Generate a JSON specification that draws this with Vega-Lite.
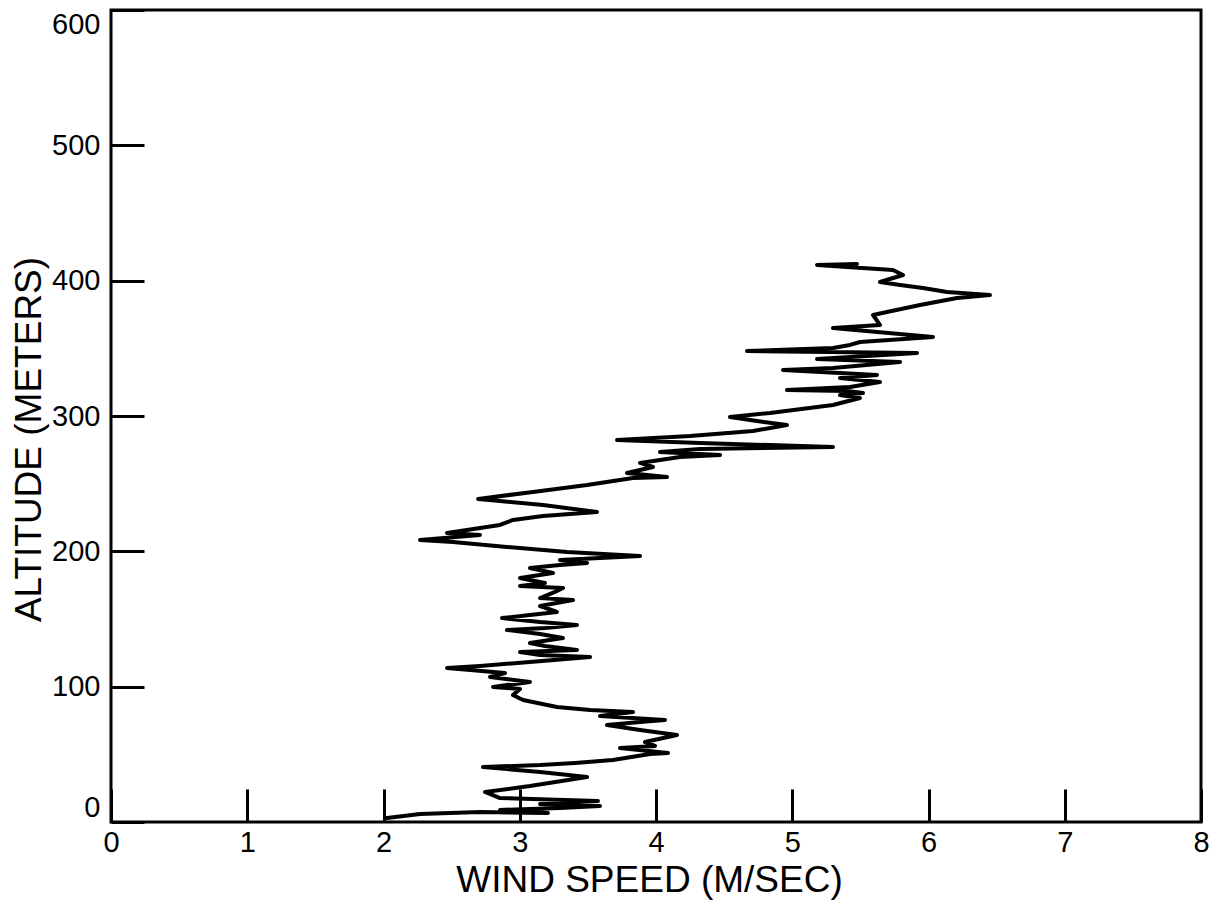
{
  "$schema": "https://vega.github.io/schema/vega-lite/v6.json",
  "width": 1090,
  "height": 812,
  "autosize": {"type": "none"},
  "padding": {"left": 111, "top": 10, "right": 16, "bottom": 79},
  "background": "white",
  "config": {
    "view": {"stroke": "black", "strokeWidth": 3},
    "axis": {
      "grid": false,
      "domain": false,
      "ticks": true,
      "tickSize": -33,
      "tickWidth": 3,
      "tickColor": "black",
      "labelFont": "Liberation Sans",
      "labelFontSize": 29,
      "labelColor": "black",
      "labelOverlap": false,
      "titleFont": "Liberation Sans",
      "titleFontSize": 37,
      "titleFontWeight": "normal",
      "titleColor": "black"
    }
  },
  "data": {
    "values": [
      {"i": 1, "speed": 2.026, "altitude": 3.0},
      {"i": 2, "speed": 2.268, "altitude": 5.9},
      {"i": 3, "speed": 2.708, "altitude": 7.4},
      {"i": 4, "speed": 3.207, "altitude": 6.7},
      {"i": 5, "speed": 2.855, "altitude": 8.9},
      {"i": 6, "speed": 3.295, "altitude": 10.4},
      {"i": 7, "speed": 3.589, "altitude": 11.8},
      {"i": 8, "speed": 3.149, "altitude": 13.3},
      {"i": 9, "speed": 3.574, "altitude": 15.5},
      {"i": 10, "speed": 2.855, "altitude": 17.7},
      {"i": 11, "speed": 2.745, "altitude": 22.2},
      {"i": 12, "speed": 3.075, "altitude": 26.6},
      {"i": 13, "speed": 3.494, "altitude": 33.3},
      {"i": 14, "speed": 3.149, "altitude": 37.0},
      {"i": 15, "speed": 2.730, "altitude": 40.6},
      {"i": 16, "speed": 3.149, "altitude": 42.1},
      {"i": 17, "speed": 3.406, "altitude": 43.6},
      {"i": 18, "speed": 3.684, "altitude": 45.8},
      {"i": 19, "speed": 3.956, "altitude": 50.3},
      {"i": 20, "speed": 4.088, "altitude": 51.0},
      {"i": 21, "speed": 3.736, "altitude": 54.7},
      {"i": 22, "speed": 3.993, "altitude": 56.2},
      {"i": 23, "speed": 3.919, "altitude": 59.1},
      {"i": 24, "speed": 4.154, "altitude": 64.3},
      {"i": 25, "speed": 3.883, "altitude": 68.0},
      {"i": 26, "speed": 3.640, "altitude": 71.7},
      {"i": 27, "speed": 3.883, "altitude": 73.9},
      {"i": 28, "speed": 4.066, "altitude": 75.4},
      {"i": 29, "speed": 3.589, "altitude": 78.3},
      {"i": 30, "speed": 3.831, "altitude": 81.3},
      {"i": 31, "speed": 3.516, "altitude": 82.8},
      {"i": 32, "speed": 3.273, "altitude": 85.0},
      {"i": 33, "speed": 3.024, "altitude": 90.2},
      {"i": 34, "speed": 2.950, "altitude": 93.8},
      {"i": 35, "speed": 3.002, "altitude": 98.3},
      {"i": 36, "speed": 2.804, "altitude": 99.8},
      {"i": 37, "speed": 3.075, "altitude": 103.5},
      {"i": 38, "speed": 2.782, "altitude": 107.2},
      {"i": 39, "speed": 2.892, "altitude": 110.1},
      {"i": 40, "speed": 2.466, "altitude": 113.8},
      {"i": 41, "speed": 2.708, "altitude": 115.3},
      {"i": 42, "speed": 3.075, "altitude": 118.2},
      {"i": 43, "speed": 3.516, "altitude": 121.9},
      {"i": 44, "speed": 3.149, "altitude": 123.4},
      {"i": 45, "speed": 3.002, "altitude": 125.6},
      {"i": 46, "speed": 3.420, "altitude": 127.1},
      {"i": 47, "speed": 3.185, "altitude": 130.1},
      {"i": 48, "speed": 3.075, "altitude": 132.3},
      {"i": 49, "speed": 3.317, "altitude": 136.0},
      {"i": 50, "speed": 3.149, "altitude": 138.9},
      {"i": 51, "speed": 2.906, "altitude": 141.9},
      {"i": 52, "speed": 3.185, "altitude": 143.4},
      {"i": 53, "speed": 3.420, "altitude": 145.6},
      {"i": 54, "speed": 3.149, "altitude": 147.8},
      {"i": 55, "speed": 2.870, "altitude": 150.7},
      {"i": 56, "speed": 3.075, "altitude": 153.0},
      {"i": 57, "speed": 3.273, "altitude": 155.2},
      {"i": 58, "speed": 3.149, "altitude": 159.6},
      {"i": 59, "speed": 3.391, "altitude": 164.0},
      {"i": 60, "speed": 3.149, "altitude": 165.5},
      {"i": 61, "speed": 3.259, "altitude": 170.0},
      {"i": 62, "speed": 3.317, "altitude": 172.9},
      {"i": 63, "speed": 3.002, "altitude": 174.4},
      {"i": 64, "speed": 3.185, "altitude": 176.6},
      {"i": 65, "speed": 3.002, "altitude": 180.3},
      {"i": 66, "speed": 3.244, "altitude": 184.0},
      {"i": 67, "speed": 3.075, "altitude": 187.7},
      {"i": 68, "speed": 3.295, "altitude": 189.9},
      {"i": 69, "speed": 3.494, "altitude": 191.4},
      {"i": 70, "speed": 3.295, "altitude": 193.6},
      {"i": 71, "speed": 3.589, "altitude": 195.1},
      {"i": 72, "speed": 3.883, "altitude": 196.6},
      {"i": 73, "speed": 3.347, "altitude": 199.5},
      {"i": 74, "speed": 2.906, "altitude": 203.2},
      {"i": 75, "speed": 2.510, "altitude": 206.9},
      {"i": 76, "speed": 2.268, "altitude": 208.4},
      {"i": 77, "speed": 2.708, "altitude": 212.1},
      {"i": 78, "speed": 2.466, "altitude": 213.6},
      {"i": 79, "speed": 2.855, "altitude": 219.5},
      {"i": 80, "speed": 2.950, "altitude": 223.2},
      {"i": 81, "speed": 3.171, "altitude": 226.1},
      {"i": 82, "speed": 3.567, "altitude": 229.1},
      {"i": 83, "speed": 3.171, "altitude": 234.2},
      {"i": 84, "speed": 2.855, "altitude": 237.2},
      {"i": 85, "speed": 2.694, "altitude": 238.7},
      {"i": 86, "speed": 3.097, "altitude": 243.9},
      {"i": 87, "speed": 3.494, "altitude": 249.0},
      {"i": 88, "speed": 3.831, "altitude": 254.2},
      {"i": 89, "speed": 4.081, "altitude": 254.9},
      {"i": 90, "speed": 3.787, "altitude": 257.9},
      {"i": 91, "speed": 3.978, "altitude": 262.3},
      {"i": 92, "speed": 3.883, "altitude": 265.3},
      {"i": 93, "speed": 4.176, "altitude": 269.7},
      {"i": 94, "speed": 4.470, "altitude": 271.2},
      {"i": 95, "speed": 4.029, "altitude": 273.4},
      {"i": 96, "speed": 4.323, "altitude": 275.6},
      {"i": 97, "speed": 5.299, "altitude": 277.1},
      {"i": 98, "speed": 4.323, "altitude": 280.1},
      {"i": 99, "speed": 3.714, "altitude": 282.3},
      {"i": 100, "speed": 4.250, "altitude": 285.2},
      {"i": 101, "speed": 4.712, "altitude": 288.9},
      {"i": 102, "speed": 4.961, "altitude": 293.4},
      {"i": 103, "speed": 4.741, "altitude": 296.3},
      {"i": 104, "speed": 4.543, "altitude": 299.3},
      {"i": 105, "speed": 4.837, "altitude": 302.2},
      {"i": 106, "speed": 5.299, "altitude": 308.1},
      {"i": 107, "speed": 5.497, "altitude": 313.3},
      {"i": 108, "speed": 5.350, "altitude": 315.5},
      {"i": 109, "speed": 5.519, "altitude": 317.0},
      {"i": 110, "speed": 5.402, "altitude": 318.5},
      {"i": 111, "speed": 4.961, "altitude": 319.2},
      {"i": 112, "speed": 5.424, "altitude": 321.4},
      {"i": 113, "speed": 5.644, "altitude": 325.1},
      {"i": 114, "speed": 5.350, "altitude": 328.1},
      {"i": 115, "speed": 5.622, "altitude": 330.3},
      {"i": 116, "speed": 4.932, "altitude": 334.0},
      {"i": 117, "speed": 5.299, "altitude": 335.5},
      {"i": 118, "speed": 5.791, "altitude": 339.9},
      {"i": 119, "speed": 5.182, "altitude": 342.1},
      {"i": 120, "speed": 5.916, "altitude": 346.6},
      {"i": 121, "speed": 4.668, "altitude": 348.0},
      {"i": 122, "speed": 5.299, "altitude": 350.3},
      {"i": 123, "speed": 5.424, "altitude": 352.5},
      {"i": 124, "speed": 5.497, "altitude": 354.7},
      {"i": 125, "speed": 6.033, "altitude": 358.4},
      {"i": 126, "speed": 5.299, "altitude": 365.0},
      {"i": 127, "speed": 5.644, "altitude": 367.3},
      {"i": 128, "speed": 5.593, "altitude": 374.6},
      {"i": 129, "speed": 5.695, "altitude": 376.9},
      {"i": 130, "speed": 5.938, "altitude": 382.0},
      {"i": 131, "speed": 6.209, "altitude": 387.2},
      {"i": 132, "speed": 6.451, "altitude": 389.4},
      {"i": 133, "speed": 6.136, "altitude": 391.6},
      {"i": 134, "speed": 5.960, "altitude": 394.6},
      {"i": 135, "speed": 5.791, "altitude": 396.8},
      {"i": 136, "speed": 5.644, "altitude": 399.0},
      {"i": 137, "speed": 5.813, "altitude": 404.2},
      {"i": 138, "speed": 5.739, "altitude": 407.9},
      {"i": 139, "speed": 5.402, "altitude": 410.1},
      {"i": 140, "speed": 5.182, "altitude": 411.6},
      {"i": 141, "speed": 5.475, "altitude": 412.3}
    ]
  },
  "mark": {"type": "line", "color": "black", "strokeWidth": 4, "strokeJoin": "round", "strokeCap": "round"},
  "encoding": {
    "x": {
      "field": "speed",
      "type": "quantitative",
      "scale": {"domain": [0, 8], "nice": false},
      "axis": {
        "title": "WIND SPEED (M/SEC)",
        "values": [0, 1, 2, 3, 4, 5, 6, 7, 8],
        "labelPadding": 39,
        "labelFlush": false,
        "titleBaseline": "alphabetic",
        "titleAlign": "center",
        "titleX": 538,
        "titleY": 69
      }
    },
    "y": {
      "field": "altitude",
      "type": "quantitative",
      "scale": {"domain": [0, 600], "nice": false},
      "axis": {
        "title": "ALTITUDE (METERS)",
        "values": [0, 100, 200, 300, 400, 500, 600],
        "labelPadding": 44,
        "labelFlush": true,
        "titleAngle": -90,
        "titleBaseline": "alphabetic",
        "titleAlign": "center",
        "titleX": -71,
        "titleY": 429
      }
    },
    "order": {"field": "i", "type": "quantitative"}
  }
}
